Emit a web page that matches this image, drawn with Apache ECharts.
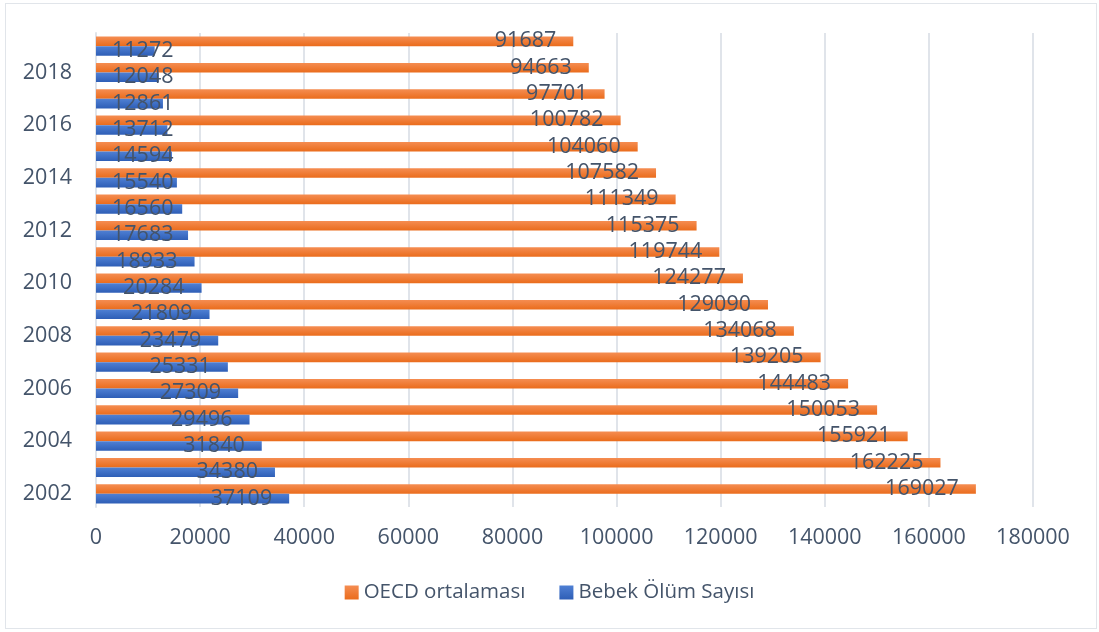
<!DOCTYPE html>
<html><head><meta charset="utf-8">
<script src="https://cdn.jsdelivr.net/npm/echarts@6/dist/echarts.min.js"></script>
<style>
html,body{margin:0;padding:0;background:#fff;}
#frame{position:absolute;left:5px;top:3px;width:1092px;height:626px;border:1.5px solid #e1e5ea;box-sizing:border-box;}
#c{position:absolute;left:0;top:0;width:1099px;height:632px;}
</style></head>
<body><div id="frame"></div><div id="c"></div>
<script>
const years = ['2002','2003','2004','2005','2006','2007','2008','2009','2010','2011','2012','2013','2014','2015','2016','2017','2018','2019'];
const oecd = [169027,162225,155921,150053,144483,139205,134068,129090,124277,119744,115375,111349,107582,104060,100782,97701,94663,91687];
const bebek = [37109,34380,31840,29496,27309,25331,23479,21809,20284,18933,17683,16560,15540,14594,13712,12861,12048,11272];
const xTicks = [0,20000,40000,60000,80000,100000,120000,140000,160000,180000];

const FONT = 'Open Sans';
const TXT = '#44546A';
const LFS = 21.5;
const orangeGrad = new echarts.graphic.LinearGradient(0,0,0,1,[{offset:0,color:'#F58D52'},{offset:1,color:'#EA6C1C'}]);
const blueGrad = new echarts.graphic.LinearGradient(0,0,0,1,[{offset:0,color:'#4F80D4'},{offset:1,color:'#2E5EB6'}]);

const chart = echarts.init(document.getElementById('c'), null, {renderer:'canvas'});
const labelBase = {show:true, position:'insideRight', distance:17, color:TXT, fontFamily:FONT, fontSize:LFS};

function opt(oData, bData){
  return {
    animation:false,
    textStyle:{fontFamily:FONT},
    legend:{
      data:['OECD ortalaması','Bebek Ölüm Sayısı'],
      bottom:24, left:'center', itemWidth:14, itemHeight:14, itemGap:34,
      icon:'rect',
      textStyle:{color:TXT, fontSize:20.5, fontFamily:FONT}
    },
    grid:{left:96, right:66, top:33, bottom:125, containLabel:false},
    xAxis:{
      type:'value', min:0, max:180000, interval:20000,
      axisLine:{show:false}, axisTick:{show:false},
      splitLine:{lineStyle:{color:'#e0e4ea', width:2}},
      axisLabel:{color:TXT, fontSize:LFS, fontFamily:FONT, margin:20,
                 formatter: v => xTicks.includes(v) ? String(v) : ''}
    },
    yAxis:{
      type:'category', data:years,
      axisLine:{show:true, lineStyle:{color:'#e0e4ea', width:2}},
      axisTick:{show:false},
      axisLabel:{color:TXT, fontSize:LFS, fontFamily:FONT, margin:24, interval:1}
    },
    series:[
      {name:'OECD ortalaması', type:'bar', data:oData, barGap:'0%', barCategoryGap:'27%',
       itemStyle:{color:orangeGrad}, label:labelBase},
      {name:'Bebek Ölüm Sayısı', type:'bar', data:bData, barGap:'0%', barCategoryGap:'27%',
       itemStyle:{color:blueGrad}, label:labelBase}
    ]
  };
}
chart.setOption(opt(oecd, bebek));

// Excel keeps short-bar labels inside the plot: if an inside-end label would run past the bar start, anchor it near the start.
const ctx = document.createElement('canvas').getContext('2d');
ctx.font = LFS + 'px "' + FONT + '"';
const x0 = chart.convertToPixel({xAxisIndex:0}, 0);
function adjust(arr){
  return arr.map(v => {
    const w = chart.convertToPixel({xAxisIndex:0}, v) - x0;
    const tw = ctx.measureText(String(v)).width;
    if (w - 17 - tw < 16) return {value:v, label:{position:'insideLeft', distance:16}};
    return v;
  });
}
chart.setOption(opt(adjust(oecd), adjust(bebek)));
</script></body></html>
